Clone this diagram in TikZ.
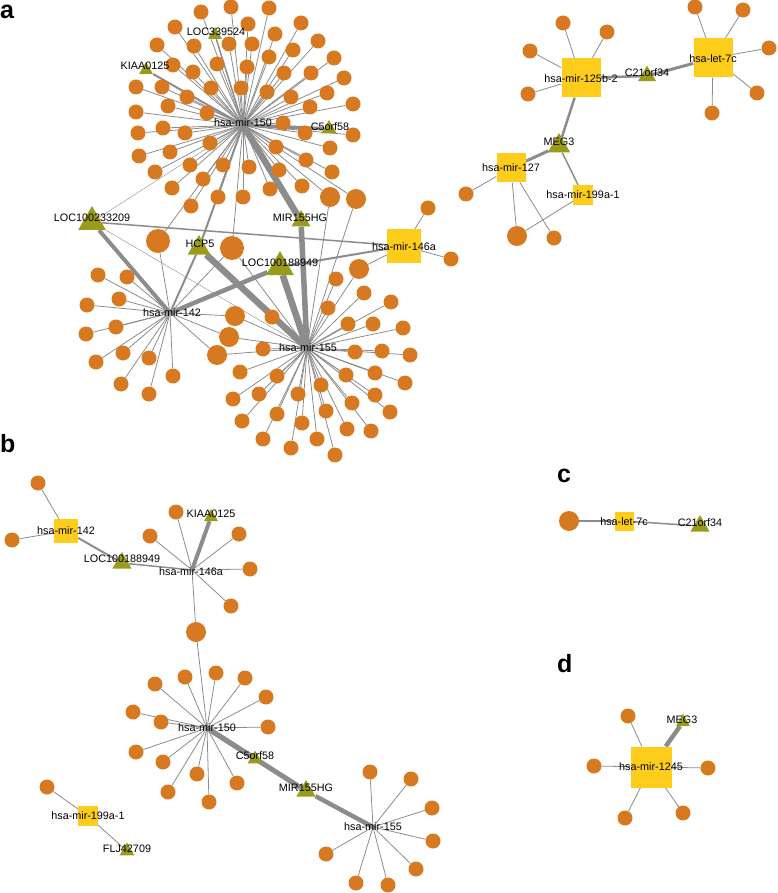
\documentclass[tikz,border=0pt]{standalone}
\usepackage{fontspec}
\setmainfont{Liberation Sans}
\usepackage{tikz}
\usetikzlibrary{shapes.geometric}
\definecolor{tgorange}{RGB}{214,121,32}
\definecolor{mirgold}{RGB}{254,204,26}
\definecolor{lncolive}{RGB}{155,155,27}
\definecolor{linkgray}{RGB}{140,140,140}
\tikzstyle{target} = [circle, fill=tgorange, inner sep=0pt, minimum size=15pt]
\tikzstyle{bigtarget} = [target, minimum size=20pt]
\tikzstyle{mirna} = [rectangle, fill=mirgold, inner sep=0pt]
\tikzstyle{lncrna} = [regular polygon, regular polygon sides=3, fill=lncolive, inner sep=0pt]
\tikzstyle{lbl} = [font=\fontsize{10.8}{12}\selectfont, inner sep=0pt]
\tikzstyle{link} = [draw=linkgray, line width=0.8pt]
\tikzstyle{panel} = [font=\bfseries\fontsize{25}{30}\selectfont, anchor=base west, inner sep=0pt]
\pgfdeclarelayer{background}
\pgfsetlayers{background,main}

\begin{document}
\begin{tikzpicture}[x=1pt, y=-1pt]
\useasboundingbox (0,0) rectangle (777,893);

% Panel a, left: hsa-mir-150 / 142 / 155 / 146a
\coordinate (a150) at (243,125);
\coordinate (a142) at (170,313);
\coordinate (a155) at (307,348);
\node (a146) [mirna, minimum size=34pt] at (404,246) {};

\node (aLOC339) [lncrna, minimum size=16pt] at (215,35) {};
\node (aKIAA) [lncrna, minimum size=16pt] at (146,70) {};
\node (aC5) [lncrna, minimum size=18pt] at (329,129) {};
\node (aMIR155) [lncrna, minimum size=22pt] at (301,221) {};
\node (aLOC233) [lncrna, minimum size=32pt] at (92,222) {};
\node (aHCP5) [lncrna, minimum size=26pt] at (199,248) {};
\node (aLOC188) [lncrna, minimum size=32pt] at (280,267) {};

\node (ab1) [bigtarget, minimum size=24pt] at (158,241) {};
\node (ab2) [bigtarget, minimum size=24pt] at (232,248) {};
\node (ab3) [bigtarget] at (330,197) {};
\node (ab4) [bigtarget] at (356,199) {};
\node (ab5) [bigtarget] at (359,269) {};
\node (ab6) [bigtarget] at (235,316) {};
\node (ab7) [bigtarget] at (229,337) {};
\node (ab8) [bigtarget] at (217,355) {};

\foreach \x/\y [count=\i] in {201/12, 231/7, 269/8, 175/27, 248/24, 301/23, 275/34, 194/46,
  229/44, 252/44, 157/45, 318/41, 293/50, 269/57, 334/58, 173/65, 217/64, 247/67, 193/72,
  284/73, 311/73, 344/78, 136/87, 162/87, 211/88, 241/88, 267/92, 327/93, 187/97, 291/97,
  310/107, 353/104, 168/106, 136/112, 207/113, 283/123, 163/128, 138/133, 185/133, 305/133,
  353/135, 210/143, 276/147, 330/148, 139/156, 170/152, 306/160, 190/165, 223/165, 249/167,
  279/170, 332/172, 155/172, 203/179, 302/186, 172/188, 270/189, 218/197, 243/197, 191/206} {
  \node (a150t\i) [target] at (\x,\y) {};
  \begin{pgfonlayer}{background}
    \draw[link] (a150) -- (a150t\i);
  \end{pgfonlayer}
}
\foreach \x/\y [count=\i] in {98/275, 127/277, 119/299, 87/305, 116/327, 86/334, 123/353,
  149/358, 96/362, 173/376, 121/384, 149/394} {
  \node (a142t\i) [target] at (\x,\y) {};
  \begin{pgfonlayer}{background}
    \draw[link] (a142) -- (a142t\i);
  \end{pgfonlayer}
}
\foreach \x/\y [count=\i] in {336/279, 364/293, 391/302, 328/308, 272/317, 348/324, 373/324,
  403/328, 263/349, 355/352, 382/351, 410/355, 240/372, 277/376, 346/375, 375/373, 405/383,
  321/385, 259/394, 298/394, 375/395, 233/399, 352/403, 326/411, 390/412, 277/414, 302/423,
  242/421, 347/429, 371/431, 263/439, 317/439, 291/448, 335/455} {
  \node (a155t\i) [target] at (\x,\y) {};
  \begin{pgfonlayer}{background}
    \draw[link] (a155) -- (a155t\i);
  \end{pgfonlayer}
}
\node (a146t1) [target] at (428,208) {};
\node (a146t2) [target] at (451,259) {};

\begin{pgfonlayer}{background}
\foreach \t in {ab1,ab2,ab3,ab4} \draw[link] (a150) -- (\t);
\foreach \t in {ab1,ab2,ab6,ab7,ab8} \draw[link] (a142) -- (\t);
\foreach \t in {ab2,ab3,ab4,ab5,ab6,ab7,ab8} \draw[link] (a155) -- (\t);
\foreach \t in {ab5,a146t1,a146t2} \draw[link] (a146) -- (\t);
\draw[link, line width=0.4pt] (aLOC233) -- (a150);
\draw[link, line width=0.4pt] (aLOC233) -- (a155);
\draw[link, line width=1.5pt] (aLOC233) -- (a146);
\draw[link, line width=2pt] (aLOC188) -- (a146);
\draw[link, line width=1.5pt] (a150) -- (aLOC339);
\draw[link, line width=2pt] (a150) -- (aKIAA);
\draw[link, line width=3.5pt] (a150) -- (aC5);
\draw[link, line width=2pt] (a150) -- (aHCP5);
\draw[link, line width=6.5pt] (a150) -- (aMIR155);
\draw[link, line width=5.5pt] (aMIR155) -- (a155);
\draw[link, line width=2pt] (a142) -- (aHCP5);
\draw[link, line width=4pt] (a142) -- (aLOC233);
\draw[link, line width=4.5pt] (a142) -- (aLOC188);
\draw[link, line width=6.5pt] (aHCP5) -- (a155);
\draw[link, line width=6.5pt] (aLOC188) -- (a155);
\end{pgfonlayer}

% Panel a, right: hsa-mir-125b-2 / let-7c / 127 / 199a-1
\node (a125) [mirna, minimum size=39pt] at (581,78) {};
\node (alet) [mirna, minimum size=39pt] at (713,58) {};
\node (a127) [mirna, minimum size=29pt] at (511,168) {};
\node (a199) [mirna, minimum size=20pt] at (583,195) {};
\node (aC21) [lncrna, minimum size=21pt] at (647,76) {};
\node (aMEG3) [lncrna, minimum size=26pt] at (559,146) {};
\node (ar1) [bigtarget] at (517,236) {};

\foreach \x/\y [count=\i] in {563/23, 607/32, 530/51, 528/94} {
  \node (a125t\i) [target] at (\x,\y) {};
  \begin{pgfonlayer}{background}
    \draw[link] (a125) -- (a125t\i);
  \end{pgfonlayer}
}
\foreach \x/\y [count=\i] in {695/7, 743/10, 769/48, 757/93, 712/113} {
  \node (alett\i) [target] at (\x,\y) {};
  \begin{pgfonlayer}{background}
    \draw[link] (alet) -- (alett\i);
  \end{pgfonlayer}
}
\node (a127t1) [target] at (466,194) {};
\node (a127t2) [target] at (554,238) {};

\begin{pgfonlayer}{background}
\foreach \t in {a127t1,a127t2,ar1} \draw[link] (a127) -- (\t);
\draw[link] (a199) -- (ar1);
\draw[link, line width=2.5pt] (a125) -- (aC21);
\draw[link, line width=3pt] (aC21) -- (alet);
\draw[link, line width=2.5pt] (a125) -- (aMEG3);
\draw[link, line width=3pt] (aMEG3) -- (a127);
\draw[link, line width=1.5pt] (aMEG3) -- (a199);
\end{pgfonlayer}

% Panel b
\node (b142) [mirna, minimum size=24pt] at (66,531) {};
\coordinate (b146) at (192,570);
\coordinate (b150) at (207,728);
\coordinate (b155) at (373,827);
\node (b199) [mirna, minimum size=20pt] at (88,816) {};
\node (bLOC188) [lncrna, minimum size=22pt] at (122,563) {};
\node (bKIAA) [lncrna, minimum size=16pt] at (211,517) {};
\node (bC5) [lncrna, minimum size=17pt] at (255,759) {};
\node (bMIR155) [lncrna, minimum size=22pt] at (306,791) {};
\node (bFLJ) [lncrna, minimum size=17pt] at (127,851) {};
\node (bb1) [bigtarget] at (196,632) {};

\node (b142t1) [target] at (38,483) {};
\node (b142t2) [target] at (12,540) {};
\node (b199t1) [target] at (47,787) {};
\foreach \x/\y [count=\i] in {176/512, 150/536, 239/534, 250/569, 231/606} {
  \node (b146t\i) [target] at (\x,\y) {};
  \begin{pgfonlayer}{background}
    \draw[link] (b146) -- (b146t\i);
  \end{pgfonlayer}
}
\foreach \x/\y [count=\i] in {185/677, 216/673, 245/678, 155/684, 266/697, 133/712, 161/722,
  268/727, 136/752, 163/762, 197/774, 237/783, 168/792, 209/802} {
  \node (b150t\i) [target] at (\x,\y) {};
  \begin{pgfonlayer}{background}
    \draw[link] (b150) -- (b150t\i);
  \end{pgfonlayer}
}
\foreach \x/\y [count=\i] in {370/772, 411/779, 432/808, 433/841, 326/854, 416/869, 356/883,
  388/885} {
  \node (b155t\i) [target] at (\x,\y) {};
  \begin{pgfonlayer}{background}
    \draw[link] (b155) -- (b155t\i);
  \end{pgfonlayer}
}

\begin{pgfonlayer}{background}
\draw[link] (b142) -- (b142t1);
\draw[link] (b142) -- (b142t2);
\draw[link] (b199) -- (b199t1);
\draw[link] (b199) -- (bFLJ);
\draw[link] (b146) -- (bb1);
\draw[link] (b150) -- (bb1);
\draw[link, line width=2pt] (b142) -- (bLOC188);
\draw[link, line width=1.5pt] (bLOC188) -- (b146);
\draw[link, line width=4pt] (b146) -- (bKIAA);
\draw[link, line width=5pt] (b150) -- (bC5);
\draw[link, line width=5pt] (b150) -- (bMIR155);
\draw[link, line width=4.5pt] (bMIR155) -- (b155);
\end{pgfonlayer}

% Panel c
\node (ct1) [bigtarget] at (569,521) {};
\node (clet) [mirna, minimum size=19pt] at (624,521) {};
\node (cC21) [lncrna, minimum size=22pt] at (700,526) {};
\begin{pgfonlayer}{background}
\draw[link, line width=1.2pt] (ct1) -- (clet);
\draw[link, line width=1.5pt] (clet) -- (cC21);
\end{pgfonlayer}

% Panel d
\node (d1245) [mirna, minimum size=41pt] at (651,767) {};
\node (dMEG3) [lncrna, minimum size=16pt] at (683,722) {};
\foreach \x/\y [count=\i] in {628/716, 594/766, 708/768, 625/818, 683/813} {
  \node (dt\i) [target] at (\x,\y) {};
  \begin{pgfonlayer}{background}
    \draw[link] (d1245) -- (dt\i);
  \end{pgfonlayer}
}
\begin{pgfonlayer}{background}
\draw[link, line width=4.5pt] (d1245) -- (dMEG3);
\end{pgfonlayer}

% Labels
\node (la150) [lbl] at (243,123) {hsa-mir-150};
\node (la142) [lbl] at (172,313) {hsa-mir-142};
\node (la155) [lbl] at (308,348) {hsa-mir-155};
\node (la146) [lbl] at (404,247) {hsa-mir-146a};
\node (laLOC339) [lbl] at (216,32) {LOC339524};
\node (laKIAA) [lbl] at (145,66) {KIAA0125};
\node (laC5) [lbl] at (330,127) {C5orf58};
\node (laMIR155) [lbl] at (300,218) {MIR155HG};
\node (laLOC233) [lbl] at (92,218) {LOC100233209};
\node (laHCP5) [lbl] at (200,244) {HCP5};
\node (laLOC188) [lbl] at (280,263) {LOC100188949};
\node (la125) [lbl] at (581,79) {hsa-mir-125b-2};
\node (laC21) [lbl] at (647,73) {C21orf34};
\node (lalet) [lbl] at (713,59) {hsa-let-7c};
\node (laMEG3) [lbl] at (559,142) {MEG3};
\node (la127) [lbl] at (511,168) {hsa-mir-127};
\node (la199) [lbl] at (583,195) {hsa-mir-199a-1};

\node (lb142) [lbl] at (66,531) {hsa-mir-142};
\node (lbLOC188) [lbl] at (122,559) {LOC100188949};
\node (lbKIAA) [lbl] at (211,514) {KIAA0125};
\node (lb146) [lbl] at (191,572) {hsa-mir-146a};
\node (lb150) [lbl] at (207,728) {hsa-mir-150};
\node (lbC5) [lbl] at (255,756) {C5orf58};
\node (lbMIR155) [lbl] at (306,788) {MIR155HG};
\node (lb155) [lbl] at (373,827) {hsa-mir-155};
\node (lb199) [lbl] at (88,816) {hsa-mir-199a-1};
\node (lbFLJ) [lbl] at (127,849) {FLJ42709};

\node (lclet) [lbl] at (624,522) {hsa-let-7c};
\node (lcC21) [lbl] at (700,523) {C21orf34};
\node (ldMEG3) [lbl] at (682,720) {MEG3};
\node (ld1245) [lbl] at (651,767) {hsa-mir-1245};

% Panel letters
\node (pa) [panel] at (0,19) {a};
\node (pb) [panel] at (0,452) {b};
\node (pc) [panel] at (557,482) {c};
\node (pd) [panel] at (557,672) {d};
\end{tikzpicture}
\end{document}
